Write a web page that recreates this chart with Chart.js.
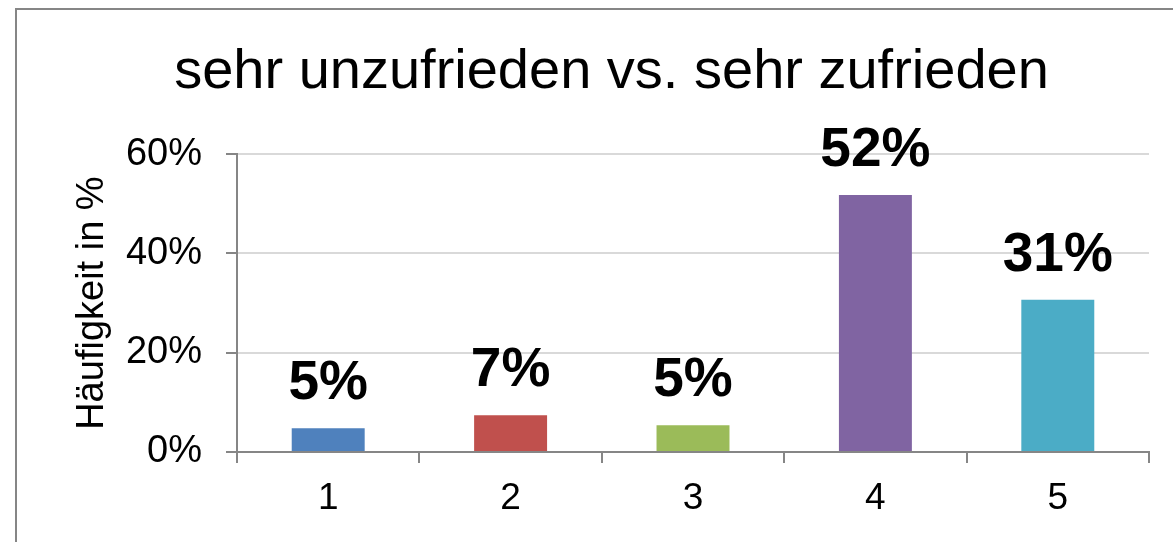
<!DOCTYPE html>
<html>
<head>
<meta charset="utf-8">
<script src="https://cdn.jsdelivr.net/npm/chart.js@4"></script>
<style>
  html, body { margin: 0; padding: 0; background: #fff; overflow: hidden; }
  #wrap { position: relative; width: 1223px; height: 542px; }
</style>
</head>
<body>
<div id="wrap"><canvas id="satChart"></canvas></div>
<script>
// values
const aCategories = ["1", "2", "3", "4", "5"];
const aShares = [4.8, 7.4, 5.4, 51.8, 30.7];
const aLabels = ["5%", "7%", "5%", "52%", "31%"];
const aColours = ["#4F81BD", "#C0504D", "#9BBB59", "#8064A2", "#4BACC6"];
const aTicks = [0, 20, 40, 60];

const sFont = "'Liberation Sans', Arial, sans-serif";
const sAxisGrey = "#868686";

// white background + frame around the chart
const framePlugin = {
    id: "frame",
    beforeDraw(chart) {
        const ctx = chart.ctx;
        ctx.save();
        ctx.fillStyle = "#fff";
        ctx.fillRect(0, 0, chart.width, chart.height);
        ctx.strokeStyle = sAxisGrey;
        ctx.lineWidth = 2;
        ctx.strokeRect(16, 9, chart.width + 50, chart.height + 50);
        ctx.restore();
    }
};

// bold value labels above each bar
const valueLabels = {
    id: "valueLabels",
    afterDatasetsDraw(chart) {
        const ctx = chart.ctx;
        const meta = chart.getDatasetMeta(0);
        ctx.save();
        ctx.font = "bold 55px " + sFont;
        ctx.fillStyle = "#000";
        ctx.textAlign = "center";
        ctx.textBaseline = "alphabetic";
        meta.data.forEach((bar, i) => {
            ctx.fillText(aLabels[i], bar.x, bar.y - 29);
        });
        ctx.restore();
    }
};

const data = {
    labels: aCategories,
    datasets: [{
        label: "Häufigkeit",
        data: aShares,
        backgroundColor: aColours,
        borderWidth: 0,
        categoryPercentage: 1,
        barPercentage: 0.4
    }]
};

const config = {
    type: "bar",
    data: data,
    plugins: [framePlugin, valueLabels],
    options: {
        responsive: false,
        animation: false,
        devicePixelRatio: 1,
        layout: {
            padding: 0
        },
        plugins: {
            legend: { display: false },
            tooltip: { enabled: false },
            title: {
                display: true,
                text: "sehr unzufrieden vs. sehr zufrieden",
                color: "#000",
                font: { family: sFont, size: 56, weight: "normal" },
                padding: { top: 39, bottom: 48 }
            }
        },
        scales: {
            y: {
                min: 0,
                max: 60,
                afterFit(scale) { scale.width = 237; },
                afterBuildTicks(scale) { scale.ticks = aTicks.map(v => ({ value: v })); },
                ticks: {
                    color: "#000",
                    padding: 24,
                    font: { family: sFont, size: 38 },
                    callback: v => v + "%"
                },
                grid: {
                    color: "#D9D9D9",
                    lineWidth: 2,
                    tickColor: sAxisGrey,
                    tickLength: 11
                },
                border: { color: sAxisGrey, width: 2 },
                title: {
                    display: true,
                    text: "Häufigkeit in %",
                    color: "#000",
                    font: { family: sFont, size: 38 },
                    padding: { top: 70, bottom: 0 }
                }
            },
            // empty right-hand spacer so the title stays centred on the whole frame
            yRight: {
                position: "right",
                afterFit(scale) { scale.width = 74; },
                ticks: { display: false },
                grid: { display: false },
                border: { display: false }
            },
            x: {
                afterFit(scale) { scale.height = 90; },
                ticks: {
                    color: "#000",
                    padding: 14,
                    font: { family: sFont, size: 37 }
                },
                grid: {
                    drawOnChartArea: false,
                    drawTicks: true,
                    tickColor: sAxisGrey,
                    tickLength: 11,
                    lineWidth: 2
                },
                border: { color: sAxisGrey, width: 2 }
            }
        }
    }
};

const canvas = document.getElementById("satChart");
canvas.width = 1223;
canvas.height = 542;
const satChart = new Chart(canvas.getContext("2d"), config);
</script>
</body>
</html>
